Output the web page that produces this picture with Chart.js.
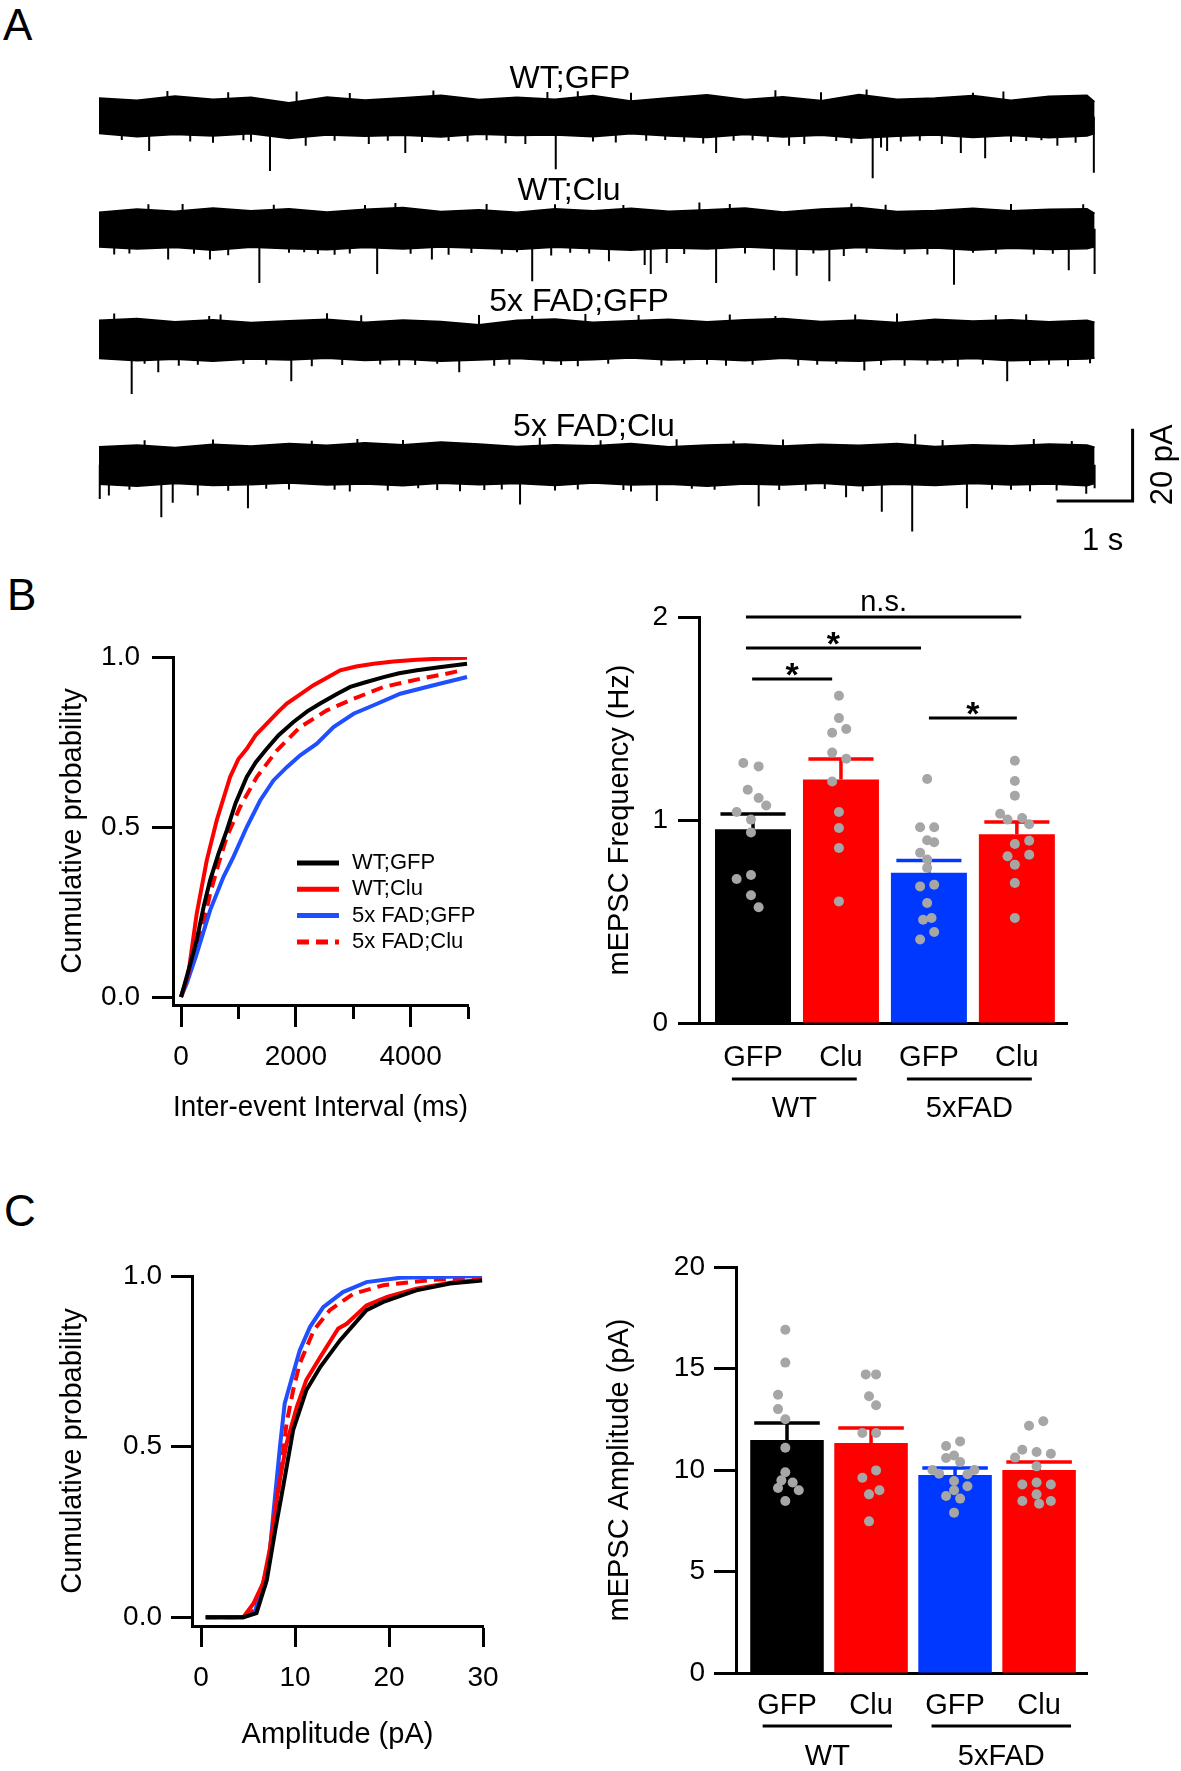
<!DOCTYPE html>
<html>
<head>
<meta charset="utf-8">
<title>mEPSC figure</title>
<script src="https://cdn.jsdelivr.net/npm/chart.js@4.4.1/dist/chart.umd.min.js"></script>
<style>
  body { margin: 0; background: #fff; }
  #fig { position: relative; width: 1181px; height: 1771px; overflow: hidden; background: #fff; }
  #fig canvas { position: absolute; }
  .tag { position: absolute; font: 44px/1 "Liberation Sans", Arial, sans-serif; color: #000; }
</style>
</head>
<body>
<div id="fig">
  <div class="tag" style="left:3px;top:3px">A</div>
  <div class="tag" style="left:7px;top:573px">B</div>
  <div class="tag" style="left:4px;top:1189px">C</div>
  <canvas id="trace1" width="1181" height="123" style="left:0;top:66px"></canvas>
  <canvas id="trace2" width="1181" height="123" style="left:0;top:178px"></canvas>
  <canvas id="trace3" width="1181" height="123" style="left:0;top:289px"></canvas>
  <canvas id="trace4" width="1181" height="143" style="left:0;top:414px"></canvas>
  <canvas id="cdfIei" width="520" height="510" style="left:0;top:620px"></canvas>
  <canvas id="barFreq" width="540" height="570" style="left:560px;top:570px"></canvas>
  <canvas id="cdfAmp" width="520" height="541" style="left:0;top:1230px"></canvas>
  <canvas id="barAmp" width="540" height="591" style="left:560px;top:1180px"></canvas>
</div>
<script>
const FONT = '"Liberation Sans", Arial, Helvetica, sans-serif';
Chart.defaults.font.family = FONT;
Chart.defaults.color = '#000';

// ---------- A: example recordings (time in s, current in pA) ----------
const traceNames = ['WT;GFP', 'WT;Clu', '5x FAD;GFP', '5x FAD;Clu'];
const traceTimes = [0, 0.5, 1, 1.5, 2, 2.5, 3, 3.5, 4, 4.5, 5, 5.5, 6, 6.5, 7, 7.5, 8, 8.5, 9, 9.5, 10, 10.5, 11, 11.5, 12, 12.5, 13, 13.1];

const noiseTop1 = [5.2, 4.6, 5.8, 4.9, 5.4, 3.9, 5.5, 4.7, 5.3, 6.0, 4.8, 5.4, 4.9, 5.9, 4.4, 5.3, 6.1, 4.8, 5.6, 4.5, 6.2, 4.9, 5.2, 5.9, 4.6, 5.7, 6.0, 4.2];
const noiseBot1 = [-4.6, -5.5, -4.9, -5.3, -4.7, -6.0, -5.0, -5.4, -5.1, -5.6, -4.8, -5.2, -5.0, -5.5, -4.7, -5.3, -5.7, -4.9, -5.6, -5.1, -5.9, -5.4, -5.0, -5.7, -5.2, -5.8, -5.3, -4.6];
const noiseTop2 = [4.6, 5.5, 4.9, 5.8, 5.0, 5.6, 4.7, 5.4, 5.9, 4.8, 5.3, 4.6, 5.6, 5.0, 5.7, 4.9, 5.3, 5.8, 4.7, 5.5, 5.9, 4.8, 5.1, 5.7, 5.0, 5.4, 5.6, 4.3];
const noiseBot2 = [-5.0, -5.6, -5.2, -5.9, -5.1, -5.5, -5.8, -5.2, -5.6, -5.0, -5.4, -5.7, -5.1, -5.5, -5.9, -5.3, -5.6, -5.0, -5.5, -5.8, -5.2, -5.6, -5.3, -5.9, -5.4, -5.7, -5.5, -5.0];
const noiseTop3 = [5.4, 5.9, 5.0, 5.6, 4.8, 5.3, 5.7, 4.9, 5.5, 5.1, 4.2, 5.4, 5.8, 4.9, 5.3, 5.7, 5.0, 5.6, 5.9, 5.1, 5.5, 4.8, 5.7, 5.2, 5.6, 5.0, 5.4, 4.9];
const noiseBot3 = [-5.2, -5.8, -5.4, -5.9, -5.3, -5.6, -5.1, -5.7, -5.4, -5.9, -5.6, -5.2, -5.8, -5.5, -5.0, -5.6, -5.3, -5.8, -5.1, -5.7, -5.9, -5.4, -5.6, -5.2, -5.8, -5.5, -5.3, -5.0];
const noiseTop4 = [5.0, 5.5, 4.8, 5.7, 5.2, 5.9, 5.4, 6.1, 5.6, 6.3, 5.8, 5.1, 5.6, 5.3, 5.9, 5.0, 5.5, 5.8, 5.2, 5.7, 5.4, 5.9, 5.1, 5.6, 5.3, 5.8, 5.5, 4.9];
const noiseBot4 = [-5.4, -5.9, -5.2, -5.7, -5.5, -5.0, -5.6, -5.3, -5.8, -5.1, -5.5, -5.2, -5.7, -5.0, -5.6, -5.4, -5.9, -5.3, -5.6, -5.1, -5.8, -5.4, -5.7, -5.2, -5.6, -5.3, -5.8, -5.2];

// events: [time s, peak pA]
const events1 = [[0.3, -6.4], [0.66, -9.5], [0.9, 7.2], [1.2, -6.8], [1.5, -7.2], [1.7, 6.8], [1.9, -6.5], [2.0, -6.9], [2.25, -15], [2.6, 7.0], [2.72, -8], [3.1, -6.6], [3.3, 6.6], [3.55, -7.5], [3.8, -6.6], [4.03, -10], [4.25, -7.0], [4.4, 7.3], [4.6, -6.7], [4.85, -6.9], [5.1, -6.5], [5.35, -7.3], [5.61, -7.5], [5.9, 6.9], [6.01, -14.5], [6.3, 7.1], [6.5, -6.8], [6.8, -7.1], [7.0, 6.7], [7.2, -6.6], [7.45, -6.4], [7.7, -6.9], [7.95, -7.4], [8.12, -10], [8.35, -6.6], [8.6, -6.5], [8.8, -6.9], [8.9, 7.4], [9.08, -8], [9.28, -7.5], [9.5, 6.8], [9.7, -6.7], [9.9, -7.3], [10.1, 7.6], [10.18, -17], [10.29, -8.5], [10.37, -9.5], [10.55, -6.8], [10.8, -6.6], [11.09, -7.5], [11.34, -10], [11.5, 6.7], [11.66, -11.5], [11.9, 7.0], [12.0, -7.0], [12.2, -6.7], [12.4, -6.5], [12.61, -8], [12.85, -7.2], [13.09, -15.5]];
const events2 = [[0.2, -7.1], [0.4, -6.8], [0.65, 6.8], [0.91, -8.5], [1.1, 6.9], [1.25, -6.9], [1.46, -8.5], [1.7, -7.3], [2.11, -15], [2.3, 6.7], [2.5, -6.6], [2.7, -6.5], [2.88, -7], [3.1, -7.2], [3.3, -6.8], [3.5, 6.6], [3.66, -12.5], [3.9, 7.2], [4.1, -6.9], [4.38, -8.5], [4.6, -7.2], [4.9, -6.7], [5.1, 6.9], [5.3, -6.9], [5.5, -6.5], [5.7, -14.5], [5.95, -7.4], [6.0, 6.8], [6.2, -6.6], [6.45, -6.8], [6.71, -9], [6.9, 6.6], [7.18, -10], [7.26, -12.5], [7.47, -9.5], [7.7, -7.0], [7.9, 7.3], [8.12, -15], [8.3, 6.9], [8.5, -6.8], [8.88, -11.5], [9.18, -13], [9.4, -6.8], [9.61, -14.5], [9.8, -7.5], [9.9, 7.0], [10.1, -6.7], [10.35, 6.7], [10.6, -7], [10.9, -7.1], [11.25, -15.5], [11.5, -6.6], [11.8, -6.9], [12.0, 6.9], [12.3, -7.1], [12.55, -6.9], [12.76, -11.5], [12.95, 6.8], [13.1, -12.5]];
const events3 = [[0.2, 7.3], [0.43, -15], [0.6, -6.6], [0.78, -9], [1.05, -7.2], [1.3, -6.9], [1.45, 6.6], [1.6, 7.0], [1.9, -6.7], [2.2, -6.9], [2.53, -11.5], [2.8, -7.3], [3.0, 7.4], [3.2, -7], [3.45, 6.8], [3.7, -6.8], [3.95, -7.1], [4.16, -7], [4.45, -6.6], [4.74, -9], [5.0, 6.9], [5.2, -7.2], [5.4, -6.9], [5.7, 6.7], [5.85, -6.8], [6.08, -7], [6.3, -7.3], [6.4, 7.2], [6.7, -6.6], [7.1, 6.9], [7.4, -7.1], [7.7, -6.7], [8.0, -6.8], [8.25, -7.2], [8.3, 7.0], [8.6, -6.9], [8.9, 6.6], [9.2, -7.2], [9.45, -6.9], [9.7, -6.7], [9.95, 7.0], [10.07, -8.5], [10.29, -7], [10.5, 7.3], [10.6, -7.2], [10.9, -6.9], [11.1, -6.5], [11.3, -7.4], [11.63, -6.8], [11.8, 6.9], [11.95, -11.5], [12.2, 7.1], [12.25, -7.0], [12.5, -6.9], [12.75, -7.3], [13.04, -6.5]];
const events4 = [[0.01, -9.5], [0.13, -8.5], [0.4, -6.9], [0.6, 6.8], [0.82, -14.5], [0.97, -10.5], [1.3, -8.5], [1.5, 7.0], [1.7, -7.2], [1.96, -12], [2.2, -6.6], [2.5, -6.8], [2.8, 6.7], [3.1, -6.9], [3.3, -7.4], [3.4, 7.2], [3.8, -7.1], [4.0, 6.9], [4.2, -6.5], [4.45, -7], [4.75, -7.3], [5.07, -7], [5.3, -6.8], [5.54, -11], [5.8, 7.5], [6.0, -7.1], [6.3, -6.8], [6.6, 6.8], [6.9, -7], [7.0, -7.4], [7.34, -10], [7.6, 7.1], [7.8, -6.6], [8.1, -6.9], [8.35, 6.7], [8.68, -11.5], [8.95, -7.0], [9.0, 7.0], [9.3, -7.2], [9.55, -6.7], [9.83, -9], [10.05, -7.3], [10.3, -13], [10.7, -18.5], [10.74, 8.5], [11.1, 6.9], [11.42, -12], [11.75, -6.8], [12.0, -6.9], [12.25, -7.3], [12.3, 7.2], [12.6, -7.1], [12.8, 6.6], [12.99, -8], [13.1, -6.5]];

const scaleBarT = [12.6, 13.6, 13.6];
const scaleBarPA = [-10, -10, 10];

// ---------- B / C: groups ----------
const condNames = ['GFP', 'Clu', 'GFP', 'Clu'];
const groupNames = ['WT', '5xFAD'];
const barColors = ['#000000', '#ff0000', '#0038ff', '#ff0000'];

// B left: cumulative inter-event interval
const ieiMsWtGfp = [0, 100, 273, 400, 506, 650, 797, 950, 1145, 1300, 1494, 1700, 1959, 2200, 2424, 2700, 2948, 3200, 3529, 3800, 4110, 4500, 4983];
const ieiProbWtGfp = [0, 0.06, 0.167, 0.27, 0.343, 0.42, 0.49, 0.57, 0.647, 0.69, 0.73, 0.77, 0.809, 0.84, 0.863, 0.89, 0.912, 0.925, 0.941, 0.952, 0.961, 0.97, 0.98];
const ieiMsWtClu = [0, 128, 273, 448, 622, 855, 1000, 1145, 1300, 1494, 1700, 1843, 2076, 2308, 2550, 2773, 3050, 3355, 3700, 4110, 4500, 4983];
const ieiProbWtClu = [0, 0.069, 0.245, 0.402, 0.52, 0.647, 0.70, 0.73, 0.77, 0.804, 0.84, 0.863, 0.89, 0.917, 0.94, 0.961, 0.972, 0.98, 0.987, 0.992, 0.995, 0.998];
const ieiMsFadGfp = [0, 100, 273, 506, 738, 913, 1145, 1378, 1610, 1843, 2076, 2366, 2657, 3006, 3355, 3820, 4401, 4983];
const ieiProbFadGfp = [0, 0.04, 0.127, 0.255, 0.353, 0.412, 0.5, 0.578, 0.637, 0.676, 0.711, 0.745, 0.794, 0.833, 0.858, 0.892, 0.917, 0.941];
const ieiMsFadClu = [0, 100, 273, 400, 506, 650, 797, 1029, 1320, 1669, 2076, 2541, 3006, 3529, 4169, 4600, 4895];
const ieiProbFadClu = [0, 0.05, 0.137, 0.22, 0.304, 0.39, 0.471, 0.559, 0.647, 0.725, 0.794, 0.843, 0.877, 0.912, 0.936, 0.95, 0.961];
const ieiTicks = [0, 1000, 2000, 3000, 4000, 5000];
const ieiTickLabels = ['0', '', '2000', '', '4000', ''];
const cdfTicks = [0, 0.5, 1];
const cdfTickLabels = ['0.0', '0.5', '1.0'];

// B right: frequency (Hz)
const freqMean = [0.955, 1.20, 0.74, 0.93];
const freqSem = [0.075, 0.10, 0.06, 0.06];
const freqDots = [
  [1.281, 1.264, 1.149, 1.108, 1.071, 1.039, 1.002, 0.939, 0.729, 0.709, 0.629, 0.570],
  [1.612, 1.502, 1.430, 1.448, 1.332, 1.302, 1.190, 1.039, 0.961, 0.862, 0.599],
  [1.202, 0.964, 0.964, 0.900, 0.890, 0.839, 0.805, 0.764, 0.673, 0.681, 0.591, 0.509, 0.517, 0.448, 0.411],
  [1.292, 1.192, 1.120, 1.031, 1.002, 1.010, 0.979, 0.882, 0.898, 0.821, 0.829, 0.780, 0.690, 0.517]
];
const freqJitter = [
  [-0.11, 0.064, -0.06, 0.064, 0.15, -0.186, -0.023, -0.023, -0.023, -0.186, -0.023, 0.064],
  [-0.023, -0.023, -0.10, 0.06, -0.10, 0.06, -0.10, -0.023, -0.023, -0.023, -0.023],
  [-0.02, -0.10, 0.06, -0.02, 0.06, -0.10, -0.02, -0.02, -0.10, 0.06, -0.02, -0.066, 0.03, 0.06, -0.10],
  [-0.023, -0.023, -0.023, -0.19, -0.106, 0.06, 0.14, -0.023, 0.14, -0.106, 0.14, -0.023, -0.023, -0.023]
];
const freqTicks = [0, 1, 2];
const freqGroupSpan = [[-0.24, 1.18], [1.75, 3.17]];
const sigFrom = [-0.08, -0.08, -0.01, 2.0];
const sigTo = [3.05, 1.91, 0.90, 3.0];
const sigY = [2.0, 1.847, 1.695, 1.502];
const sigText = ['n.s.', '*', '*', '*'];

// C left: cumulative amplitude
const ampPaWtGfp = [0.5, 4.5, 5.9, 7.0, 7.9, 8.8, 9.8, 11.2, 12.7, 14.8, 17.6, 19.4, 22.9, 26.5, 29.9];
const ampProbWtGfp = [0, 0, 0.012, 0.109, 0.256, 0.392, 0.548, 0.665, 0.734, 0.812, 0.90, 0.924, 0.958, 0.978, 0.987];
const ampPaWtClu = [0.5, 4.5, 5.6, 6.6, 7.3, 8.2, 9.1, 10.2, 11.2, 12.7, 14.6, 15.5, 17.6, 19.8, 22.9, 26.5, 29.9];
const ampProbWtClu = [0, 0, 0.041, 0.10, 0.197, 0.373, 0.509, 0.617, 0.695, 0.763, 0.846, 0.86, 0.914, 0.939, 0.963, 0.98, 0.989];
const ampPaFadGfp = [0.5, 4.5, 5.7, 6.6, 7.2, 7.7, 8.4, 8.9, 9.5, 10.5, 11.6, 13.0, 15.1, 17.6, 21.2, 29.9];
const ampProbFadGfp = [0, 0, 0.012, 0.10, 0.158, 0.304, 0.50, 0.626, 0.685, 0.782, 0.851, 0.909, 0.953, 0.982, 0.995, 1.0];
const ampPaFadClu = [0.5, 4.5, 5.7, 6.8, 7.5, 8.4, 9.1, 9.8, 10.5, 12.0, 13.7, 16.2, 19.4, 24.7, 29.9];
const ampProbFadClu = [0, 0, 0.021, 0.09, 0.207, 0.41, 0.568, 0.665, 0.743, 0.841, 0.90, 0.948, 0.973, 0.989, 0.995];
const ampAxisTicks = [0, 10, 20, 30];
const ampAxisLabels = ['0', '10', '20', '30'];

// C right: amplitude (pA)
const ampMean = [11.48, 11.33, 9.75, 10.0];
const ampSem = [0.84, 0.74, 0.35, 0.4];
const ampDots = [
  [16.91, 15.29, 13.71, 13.0, 12.5, 11.1, 9.89, 9.49, 9.38, 9.11, 9.0, 8.47],
  [14.71, 14.71, 13.63, 13.19, 11.82, 11.82, 9.98, 9.62, 9.0, 8.8, 7.47],
  [11.41, 11.18, 10.59, 10.71, 10.39, 10.0, 9.82, 10.0, 9.79, 9.46, 9.2, 9.0, 8.72, 8.59, 7.9],
  [12.18, 12.40, 11.0, 10.89, 10.8, 10.61, 10.18, 9.29, 9.38, 9.29, 8.8, 8.47, 8.34, 8.47]
];
const ampJitter = [
  [-0.02, -0.02, -0.107, -0.107, -0.02, -0.02, -0.02, -0.067, 0.067, -0.107, 0.14, -0.02],
  [-0.063, 0.06, -0.024, 0.06, -0.103, 0.06, 0.06, -0.103, 0.1, -0.024, -0.024],
  [0.06, -0.107, -0.107, -0.012, 0.06, -0.27, -0.19, 0.23, 0.147, -0.012, 0.147, -0.012, -0.107, 0.06, -0.012],
  [-0.12, 0.05, -0.2, -0.03, 0.14, -0.286, -0.03, -0.2, -0.03, 0.14, -0.03, -0.2, 0, 0.14]
];
const ampTicks = [0, 5, 10, 15, 20];
const ampGroupSpan = [[-0.29, 1.25], [1.72, 3.38]];

// ---------- plugins ----------
const scaleText = {
  id: 'scaleText',
  afterDatasetsDraw(chart) {
    const {ctx, scales: {x, y}} = chart;
    const xl = x.getPixelForValue(scaleBarT[0]), xr = x.getPixelForValue(scaleBarT[2]);
    const yb = y.getPixelForValue(scaleBarPA[0]), yt = y.getPixelForValue(scaleBarPA[2]);
    ctx.save();
    ctx.fillStyle = '#000';
    ctx.font = '31px ' + FONT;
    ctx.textAlign = 'center';
    ctx.textBaseline = 'middle';
    ctx.fillText((scaleBarT[1] - scaleBarT[0]) + ' s', (xl + xr) / 2 + 8, yb + 41);
    ctx.translate(xr + 31, (yb + yt) / 2);
    ctx.rotate(-Math.PI / 2);
    ctx.fillText((scaleBarPA[2] - scaleBarPA[0]) + ' pA', 0, 0);
    ctx.restore();
  }
};

const cdfLegend = {
  id: 'cdfLegend',
  afterDraw(chart, args, o) {
    const {ctx, chartArea} = chart;
    ctx.save();
    chart.data.datasets.forEach((ds, i) => {
      const x = chartArea.left + o.left;
      const y = chartArea.top + o.top + i * o.step;
      ctx.strokeStyle = ds.borderColor;
      ctx.lineWidth = 5;
      ctx.setLineDash(ds.borderDash || []);
      ctx.beginPath();
      ctx.moveTo(x, y);
      ctx.lineTo(x + 42, y);
      ctx.stroke();
      ctx.setLineDash([]);
      ctx.fillStyle = '#000';
      ctx.font = '22px ' + FONT;
      ctx.textBaseline = 'middle';
      ctx.fillText(ds.label, x + 55, y);
    });
    ctx.restore();
  }
};

const barExtras = {
  id: 'barExtras',
  afterDatasetsDraw(chart, args, o) {
    const {ctx, chartArea, scales: {x, y}} = chart;
    ctx.save();
    ctx.fillStyle = '#000';
    ctx.strokeStyle = '#000';
    ctx.textAlign = 'center';
    (o.sigText || []).forEach((t, i) => {
      const px = x.getPixelForValue((o.sigFrom[i] + o.sigTo[i]) / 2);
      const py = y.getPixelForValue(o.sigY[i]);
      ctx.textBaseline = 'alphabetic';
      if (t === '*') { ctx.font = 'bold 34px ' + FONT; ctx.fillText(t, px, py + 7); }
      else { ctx.font = '29px ' + FONT; ctx.fillText(t, px, py - 6); }
    });
    ctx.lineWidth = 3;
    groupNames.forEach((g, i) => {
      const x0 = x.getPixelForValue(o.groupSpan[i][0]);
      const x1 = x.getPixelForValue(o.groupSpan[i][1]);
      const ly = chartArea.bottom + o.lineOff;
      ctx.beginPath();
      ctx.moveTo(x0, ly);
      ctx.lineTo(x1, ly);
      ctx.stroke();
      ctx.font = '29px ' + FONT;
      ctx.textBaseline = 'middle';
      ctx.fillText(g, (x0 + x1) / 2, chartArea.bottom + o.labelOff);
    });
    ctx.restore();
  }
};

// ---------- builders ----------
const TRACE_X0 = 99;     // pixel where t = 0
const PX_PER_S = 76;

function traceChart(id, name, top, bottom, events, withBar, padL, padR) {
  const datasets = [
    { data: traceTimes.map((t, i) => ({x: t, y: top[i]})), fill: '+1', backgroundColor: '#000', borderColor: '#000', borderWidth: 1.5, pointRadius: 0, clip: false },
    { data: traceTimes.map((t, i) => ({x: t, y: bottom[i]})), fill: false, borderColor: '#000', borderWidth: 1.5, pointRadius: 0, clip: false },
    { data: events.flatMap(e => [{x: e[0], y: 0}, {x: e[0], y: e[1]}, {x: e[0], y: null}]), fill: false, borderColor: '#000', borderWidth: 2, pointRadius: 0, spanGaps: false, clip: false }
  ];
  if (withBar) {
    datasets.push({ data: scaleBarT.map((t, i) => ({x: t, y: scaleBarPA[i]})), fill: false, borderColor: '#000', borderWidth: 3, pointRadius: 0, clip: false });
  }
  const el = document.getElementById(id);
  new Chart(el, {
    type: 'line',
    data: { datasets },
    options: {
      responsive: false, animation: false, devicePixelRatio: 1, events: [],
      layout: { padding: { left: padL, right: padR, top: 0, bottom: withBar ? 20 : 0 } },
      plugins: {
        legend: { display: false }, tooltip: { enabled: false },
        title: { display: true, text: name, color: '#000', font: { size: 32, weight: 'normal', lineHeight: 0.8 }, padding: { top: 0, bottom: 0 } }
      },
      scales: {
        x: { type: 'linear', min: (padL - TRACE_X0) / PX_PER_S, max: (el.width - padR - TRACE_X0) / PX_PER_S, display: false },
        y: { type: 'linear', min: -20, max: 7, display: false }
      }
    },
    plugins: withBar ? [scaleText] : []
  });
}

function cdfChart(id, series, o) {
  new Chart(document.getElementById(id), {
    type: 'line',
    data: {
      datasets: series.map(s => ({
        label: s.name,
        data: s.x.map((v, i) => ({x: v, y: s.p[i]})),
        borderColor: s.color, borderDash: s.dash, borderWidth: 4, pointRadius: 0, fill: false
      }))
    },
    options: {
      responsive: false, animation: false, devicePixelRatio: 1, events: [],
      layout: { padding: { left: 0, top: o.padTop, right: o.padRight, bottom: 0 } },
      plugins: { legend: { display: false }, tooltip: { enabled: false }, cdfLegend: o.legend || false },
      scales: {
        x: {
          type: 'linear', min: o.xMin, max: o.xMax,
          afterBuildTicks: s => { s.ticks = o.xTicks.map(v => ({value: v})); },
          afterFit: s => { s.height = o.xHeight; },
          ticks: { callback: (v, i) => o.xLabels[i], autoSkip: false, maxRotation: 0, padding: o.xPad, font: { size: 28 }, color: '#000' },
          grid: { drawOnChartArea: false, tickLength: o.xTickLen, tickWidth: 3, tickColor: '#000', tickBorderDash: c => o.xLabels[c.index] ? [] : [12, 40] },
          border: { color: '#000', width: 3 },
          title: { display: true, text: o.xTitle, color: '#000', font: { size: 29 }, padding: { top: 0, bottom: o.xTitlePad } }
        },
        y: {
          type: 'linear', min: o.yMin, max: 1,
          afterBuildTicks: s => { s.ticks = cdfTicks.map(v => ({value: v})); },
          afterFit: s => { s.width = o.yWidth; },
          ticks: { callback: (v, i) => cdfTickLabels[i], padding: o.yPad, font: { size: 28 }, color: '#000' },
          grid: { drawOnChartArea: false, tickLength: 21, tickWidth: 3, tickColor: '#000' },
          border: { color: '#000', width: 3 },
          title: { display: true, text: 'Cumulative probability', color: '#000', font: { size: 29 }, padding: { top: 55.6, bottom: 0 } }
        }
      }
    },
    plugins: o.legend ? [cdfLegend] : []
  });
}

function barChart(id, o) {
  const datasets = [];
  o.dots.forEach((vals, g) => datasets.push({
    type: 'scatter', data: vals.map((v, k) => ({x: g + o.jitter[g][k], y: v})),
    pointRadius: 5, backgroundColor: '#a6a6a6', borderWidth: 0, order: 0
  }));
  (o.sigFrom || []).forEach((x0, i) => datasets.push({
    type: 'line', data: [{x: x0, y: o.sigY[i]}, {x: o.sigTo[i], y: o.sigY[i]}],
    borderColor: '#000', borderWidth: 3, pointRadius: 0, fill: false, clip: false, order: 0
  }));
  o.means.forEach((m, g) => {
    const t = m + o.sems[g];
    datasets.push({
      type: 'line', data: [{x: g, y: m}, {x: g, y: t}, {x: g, y: null}, {x: g - o.cap, y: t}, {x: g + o.cap, y: t}],
      borderColor: barColors[g], borderWidth: 3.5, pointRadius: 0, fill: false, spanGaps: false, order: 1
    });
  });
  datasets.push({
    type: 'bar', data: o.means.map((m, g) => ({x: g, y: m})),
    backgroundColor: barColors, borderWidth: 0, barPercentage: 1, categoryPercentage: o.barFrac, order: 2
  });
  new Chart(document.getElementById(id), {
    type: 'bar',
    data: { datasets },
    options: {
      responsive: false, animation: false, devicePixelRatio: 1, events: [],
      layout: { padding: { left: 0, top: o.padTop, right: o.padRight, bottom: 0 } },
      plugins: {
        legend: { display: false }, tooltip: { enabled: false },
        barExtras: { groupSpan: o.groupSpan, lineOff: o.lineOff, labelOff: o.labelOff, sigFrom: o.sigFrom, sigTo: o.sigTo, sigY: o.sigY, sigText: o.sigText }
      },
      scales: {
        x: {
          type: 'linear', offset: false, min: o.xMin, max: o.xMax,
          afterBuildTicks: s => { s.ticks = condNames.map((_, i) => ({value: i})); },
          afterFit: s => { s.height = o.xHeight; },
          ticks: { callback: (v, i) => condNames[i], autoSkip: false, maxRotation: 0, padding: o.labelPad, font: { size: 29 }, color: '#000' },
          grid: { display: false, drawTicks: false, offset: false },
          border: { display: true, color: '#000', width: 3 }
        },
        y: {
          type: 'linear', min: 0, max: o.yMax,
          afterBuildTicks: s => { s.ticks = o.yTicks.map(v => ({value: v})); },
          afterFit: s => { s.width = o.yWidth; },
          ticks: { callback: v => String(v), padding: o.tickPad, font: { size: 28 }, color: '#000' },
          grid: { drawOnChartArea: false, tickLength: o.tickLen, tickWidth: 3, tickColor: '#000' },
          border: { color: '#000', width: 3 },
          title: { display: true, text: o.yTitle, color: '#000', font: { size: 29 }, padding: { top: 42.6, bottom: 0 } }
        }
      }
    },
    plugins: [barExtras]
  });
}

// ---------- draw ----------
traceChart('trace1', traceNames[0], noiseTop1, noiseBot1, events1, false, 0, 41);
traceChart('trace2', traceNames[1], noiseTop2, noiseBot2, events2, false, 0, 43);
traceChart('trace3', traceNames[2], noiseTop3, noiseBot3, events3, false, 0, 23);
traceChart('trace4', traceNames[3], noiseTop4, noiseBot4, events4, true, 10, 3);

cdfChart('cdfIei', [
  { name: traceNames[0], x: ieiMsWtGfp, p: ieiProbWtGfp, color: '#000000', dash: [] },
  { name: traceNames[1], x: ieiMsWtClu, p: ieiProbWtClu, color: '#ff0000', dash: [] },
  { name: traceNames[2], x: ieiMsFadGfp, p: ieiProbFadGfp, color: '#1f4fff', dash: [] },
  { name: traceNames[3], x: ieiMsFadClu, p: ieiProbFadClu, color: '#ff0000', dash: [12, 7] }
], {
  padTop: 37, padRight: 52, xMin: -140, xMax: 5000, xTicks: ieiTicks, xLabels: ieiTickLabels,
  xHeight: 125, xPad: 13, xTickLen: 22, xTitle: 'Inter-event Interval (ms)', xTitlePad: 4.6,
  yMin: -0.0235, yWidth: 173, yPad: 12,
  legend: { left: 124, top: 206, step: 26.3 }
});

barChart('barFreq', {
  means: freqMean, sems: freqSem, dots: freqDots, jitter: freqJitter,
  xMin: -0.614, xMax: 3.57, barFrac: 0.864, cap: 0.37,
  yMax: 2, yTicks: freqTicks, yTitle: 'mEPSC Frequency (Hz)',
  padTop: 47, padRight: 33, yWidth: 139, xHeight: 117, labelPad: 17.6, tickLen: 21, tickPad: 10,
  groupSpan: freqGroupSpan, lineOff: 56, labelOff: 86,
  sigFrom, sigTo, sigY, sigText
});

cdfChart('cdfAmp', [
  { name: traceNames[0], x: ampPaWtGfp, p: ampProbWtGfp, color: '#000000', dash: [] },
  { name: traceNames[1], x: ampPaWtClu, p: ampProbWtClu, color: '#ff0000', dash: [] },
  { name: traceNames[2], x: ampPaFadGfp, p: ampProbFadGfp, color: '#1f4fff', dash: [] },
  { name: traceNames[3], x: ampPaFadClu, p: ampProbFadClu, color: '#ff0000', dash: [12, 7] }
], {
  padTop: 46, padRight: 37, xMin: -0.96, xMax: 30, xTicks: ampAxisTicks, xLabels: ampAxisLabels,
  xHeight: 145, xPad: 14.2, xTickLen: 21, xTitle: 'Amplitude (pA)', xTitlePad: 18.6,
  yMin: -0.026, yWidth: 192, yPad: 9
});

barChart('barAmp', {
  means: ampMean, sems: ampSem, dots: ampDots, jitter: ampJitter,
  xMin: -0.607, xMax: 3.57, barFrac: 0.875, cap: 0.39,
  yMax: 20, yTicks: ampTicks, yTitle: 'mEPSC Amplitude (pA)',
  padTop: 87, padRight: 13, yWidth: 176, xHeight: 98, labelPad: 15.6, tickLen: 22, tickPad: 9,
  groupSpan: ampGroupSpan, lineOff: 53, labelOff: 84
});
</script>
</body>
</html>
